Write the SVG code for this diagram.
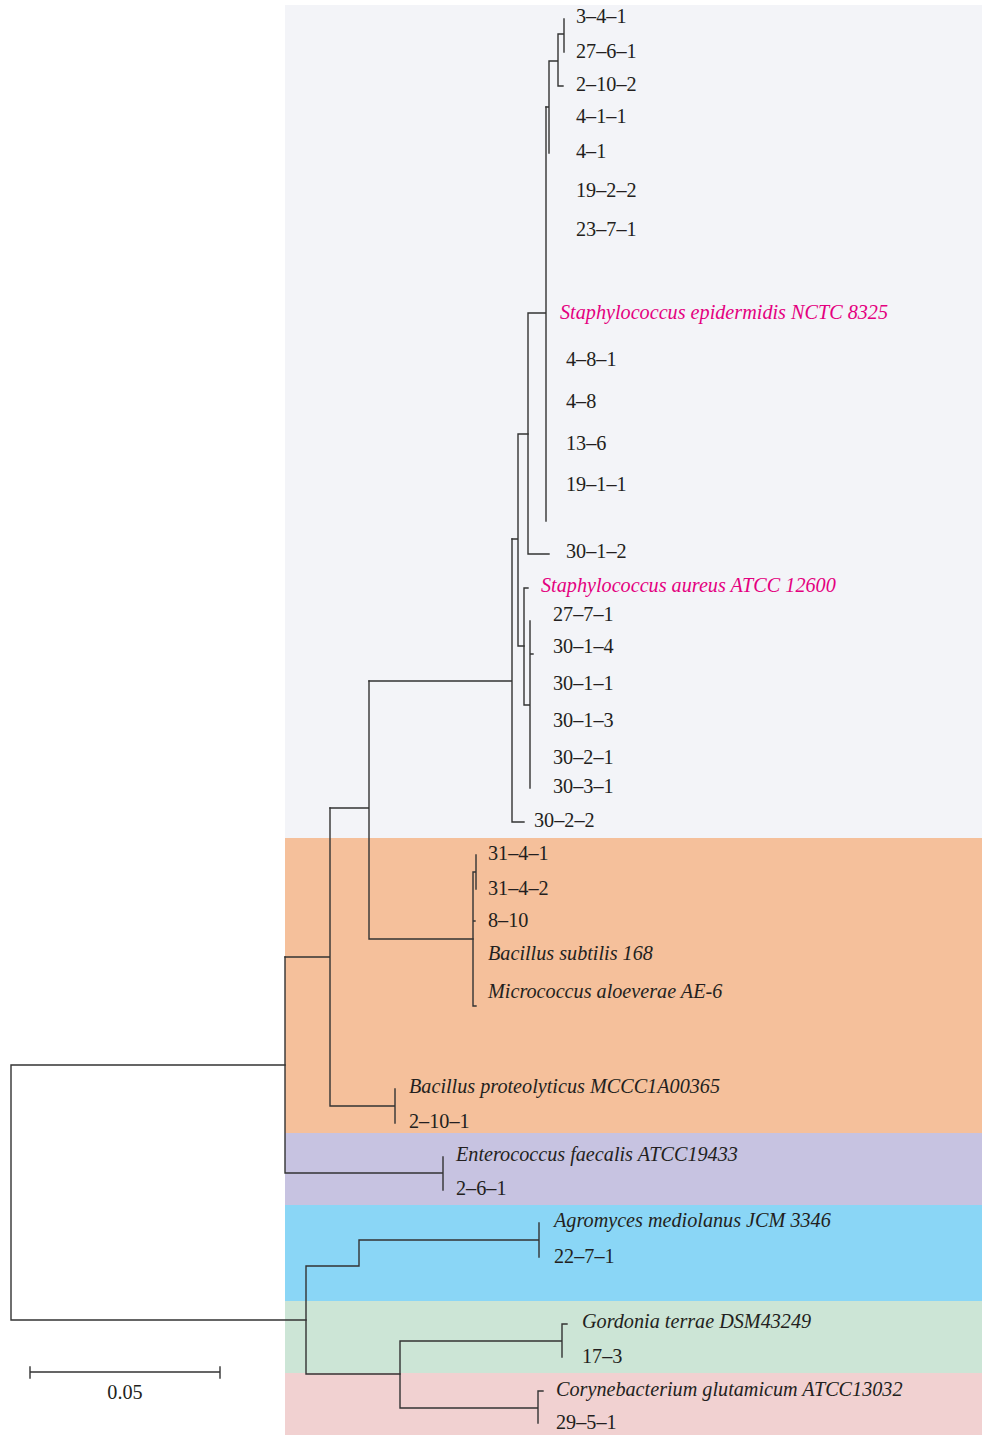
<svg xmlns="http://www.w3.org/2000/svg" width="982" height="1435" viewBox="0 0 982 1435">
<style>
.t{font-family:"Liberation Serif","Times New Roman",serif;font-size:20.2px;fill:#231f20}
.i{font-style:italic}
.m{fill:#e4007f}
.e{fill:none;stroke:#333;stroke-width:1.4;stroke-linecap:square}
</style>
<rect width="982" height="1435" fill="#ffffff"/>
<g id="bands">
<rect x="285" y="5" width="697" height="833" fill="#f3f4f8"/>
<rect x="285" y="838" width="697" height="295" fill="#f5c09b"/>
<rect x="285" y="1133" width="697" height="72" fill="#c7c3e1"/>
<rect x="285" y="1205" width="697" height="96" fill="#8ad6f6"/>
<rect x="285" y="1301" width="697" height="72" fill="#cce5d6"/>
<rect x="285" y="1373" width="697" height="62" fill="#f1d1d1"/>
</g>
<g id="connectors" class="e">
<path d="M285,1065H11V1320H306"/>
<path d="M285,957V1173H443M443,1157V1190"/>
<path d="M285,957H330M330,808V1106H395M395,1089V1123"/>
<path d="M330,808H369M369,681V939H473"/>
<path d="M473,872V1006H476M473,872H476M476,855V889M473,921H475"/>
<path d="M369,681H512M512,539V822H524"/>
<path d="M512,539H518M518,434V646H524M518,434H528"/>
<path d="M524,588V705H530M524,588H528M530,621V788M530,654H533"/>
<path d="M528,313V554H549M528,313H546M546,107V521"/>
<path d="M546,107H549M549,61V153M549,61H558M558,34V86H563M558,34H564M564,19V52"/>
<path d="M306,1266V1374H400M306,1266H359V1240H539M539,1223V1257"/>
<path d="M400,1341V1408H538M400,1341H562M562,1324V1357M562,1324H567M538,1391V1423M538,1391H543"/>
</g>
<g id="leaves" class="t">
<g id="n-3-4-1"><text x="576" y="23">3–4–1</text></g>
<g id="n-27-6-1"><text x="576" y="58">27–6–1</text></g>
<g id="n-2-10-2"><text x="576" y="91">2–10–2</text></g>
<g id="n-4-1-1"><text x="576" y="123">4–1–1</text></g>
<g id="n-4-1"><text x="576" y="158">4–1</text></g>
<g id="n-19-2-2"><text x="576" y="197">19–2–2</text></g>
<g id="n-23-7-1"><text x="576" y="236">23–7–1</text></g>
<g id="n-sepi"><text class="t i m" x="560" y="319">Staphylococcus epidermidis NCTC 8325</text></g>
<g id="n-4-8-1"><text x="566" y="366">4–8–1</text></g>
<g id="n-4-8"><text x="566" y="408">4–8</text></g>
<g id="n-13-6"><text x="566" y="450">13–6</text></g>
<g id="n-19-1-1"><text x="566" y="491">19–1–1</text></g>
<g id="n-30-1-2"><text x="566" y="558">30–1–2</text></g>
<g id="n-saur"><text class="t i m" x="541" y="592">Staphylococcus aureus ATCC 12600</text></g>
<g id="n-27-7-1"><text x="553" y="621">27–7–1</text></g>
<g id="n-30-1-4"><text x="553" y="653">30–1–4</text></g>
<g id="n-30-1-1"><text x="553" y="690">30–1–1</text></g>
<g id="n-30-1-3"><text x="553" y="727">30–1–3</text></g>
<g id="n-30-2-1"><text x="553" y="764">30–2–1</text></g>
<g id="n-30-3-1"><text x="553" y="793">30–3–1</text></g>
<g id="n-30-2-2"><text x="534" y="827">30–2–2</text></g>
<g id="n-31-4-1"><text x="488" y="860">31–4–1</text></g>
<g id="n-31-4-2"><text x="488" y="895">31–4–2</text></g>
<g id="n-8-10"><text x="488" y="927">8–10</text></g>
<g id="n-bsub"><text class="t i" x="488" y="960">Bacillus subtilis 168</text></g>
<g id="n-malo"><text class="t i" x="488" y="998">Micrococcus aloeverae AE-6</text></g>
<g id="n-bpro"><text class="t i" x="409" y="1093">Bacillus proteolyticus MCCC1A00365</text></g>
<g id="n-2-10-1"><text x="409" y="1128">2–10–1</text></g>
<g id="n-efae"><text class="t i" x="456" y="1161">Enterococcus faecalis ATCC19433</text></g>
<g id="n-2-6-1"><text x="456" y="1195">2–6–1</text></g>
<g id="n-agro"><text class="t i" x="554" y="1227">Agromyces mediolanus JCM 3346</text></g>
<g id="n-22-7-1"><text x="554" y="1263">22–7–1</text></g>
<g id="n-gord"><text class="t i" x="582" y="1328">Gordonia terrae DSM43249</text></g>
<g id="n-17-3"><text x="582" y="1363">17–3</text></g>
<g id="n-cory"><text class="t i" x="556" y="1396">Corynebacterium glutamicum ATCC13032</text></g>
<g id="n-29-5-1"><text x="556" y="1429">29–5–1</text></g>
</g>
<g id="scale">
<path class="e" d="M30,1372H220M30,1367V1378M220,1367V1378"/>
<text class="t" x="125" y="1399" text-anchor="middle">0.05</text>
</g>
</svg>
